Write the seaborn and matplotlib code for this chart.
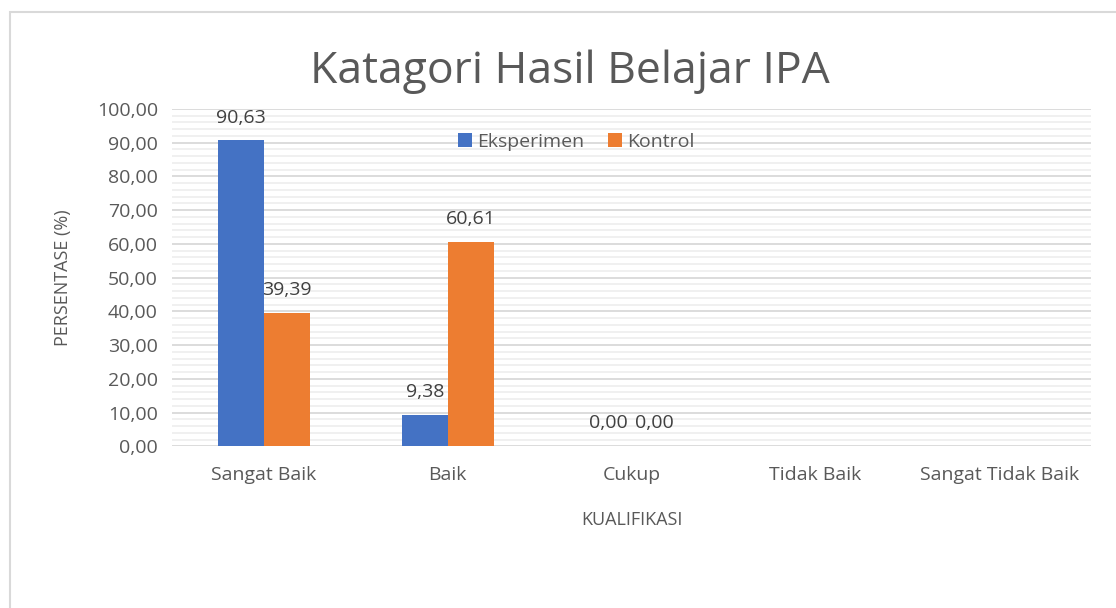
import matplotlib
matplotlib.use('Agg')
import numpy as np
import pandas as pd
import matplotlib.pyplot as plt
import seaborn as sns
from matplotlib.ticker import MultipleLocator, FuncFormatter
from matplotlib.patches import Rectangle

kategori = ['Sangat Baik', 'Baik', 'Cukup', 'Tidak Baik', 'Sangat Tidak Baik']
eksperimen = [90.63, 9.38, 0.00, np.nan, np.nan]
kontrol = [39.39, 60.61, 0.00, np.nan, np.nan]
kelompok = ['Eksperimen', 'Kontrol']
warna = ['#4472C4', '#ED7D31']

df = pd.DataFrame({'Kategori': kategori * 2,
                   'Kelompok': [kelompok[0]] * 5 + [kelompok[1]] * 5,
                   'Nilai': eksperimen + kontrol})

sns.set_theme(style='white')
plt.rcParams['font.family'] = ['Open Sans', 'DejaVu Sans']
abu = '#595959'

fig = plt.figure(figsize=(11.16, 6.08), dpi=100)
ax = fig.add_axes([0.154, 0.266, 0.824, 0.555])

sns.barplot(data=df, x='Kategori', y='Nilai', hue='Kelompok', order=kategori,
            hue_order=kelompok, palette=warna, width=0.5, saturation=1,
            linewidth=0, ax=ax, zorder=3)

# label angka di atas batang
for cont in ax.containers:
    for bar in cont:
        h = bar.get_height()
        if np.isnan(h):
            continue
        ax.annotate(f'{h:.2f}'.replace('.', ','),
                    (bar.get_x() + bar.get_width() / 2, h),
                    xytext=(0, 10), textcoords='offset points',
                    ha='center', va='bottom', fontsize=14, color='#404040')

ax.set_ylim(0, 100)
ax.set_xlim(-0.5, 4.5)
ax.yaxis.set_major_locator(MultipleLocator(10))
ax.yaxis.set_minor_locator(MultipleLocator(2))
ax.yaxis.set_major_formatter(FuncFormatter(lambda v, p: f'{v:.2f}'.replace('.', ',')))
ax.grid(which='major', axis='y', color='#d9d9d9', lw=1.3, zorder=0)
ax.grid(which='minor', axis='y', color='#efefef', lw=1.3, zorder=0)
ax.set_axisbelow(True)
for s in ax.spines.values():
    s.set_visible(False)
ax.tick_params(axis='both', which='both', length=0, labelsize=14, colors=abu)
ax.tick_params(axis='x', pad=14)
ax.tick_params(axis='y', pad=10)

ax.set_xlabel('KUALIFIKASI', fontsize=13, color=abu, labelpad=20)
ax.set_ylabel('PERSENTASE (%)', fontsize=13, color=abu, labelpad=18)
fig.text(0.511, 0.882, 'Katagori Hasil Belajar IPA', ha='center', va='center',
         fontsize=32, color=abu)

ax.legend(loc='upper center', bbox_to_anchor=(0.44, 0.98), ncol=2, frameon=False,
          fontsize=14, handlelength=0.7, handleheight=0.7, handletextpad=0.3,
          columnspacing=1.2, labelcolor=abu)

# bingkai grafik
fig.patches.append(Rectangle((0.009, -0.2), 1.2, 1.18, transform=fig.transFigure,
                             fill=False, edgecolor='#d9d9d9', lw=1.5))

fig.savefig('out.png', dpi=100)
